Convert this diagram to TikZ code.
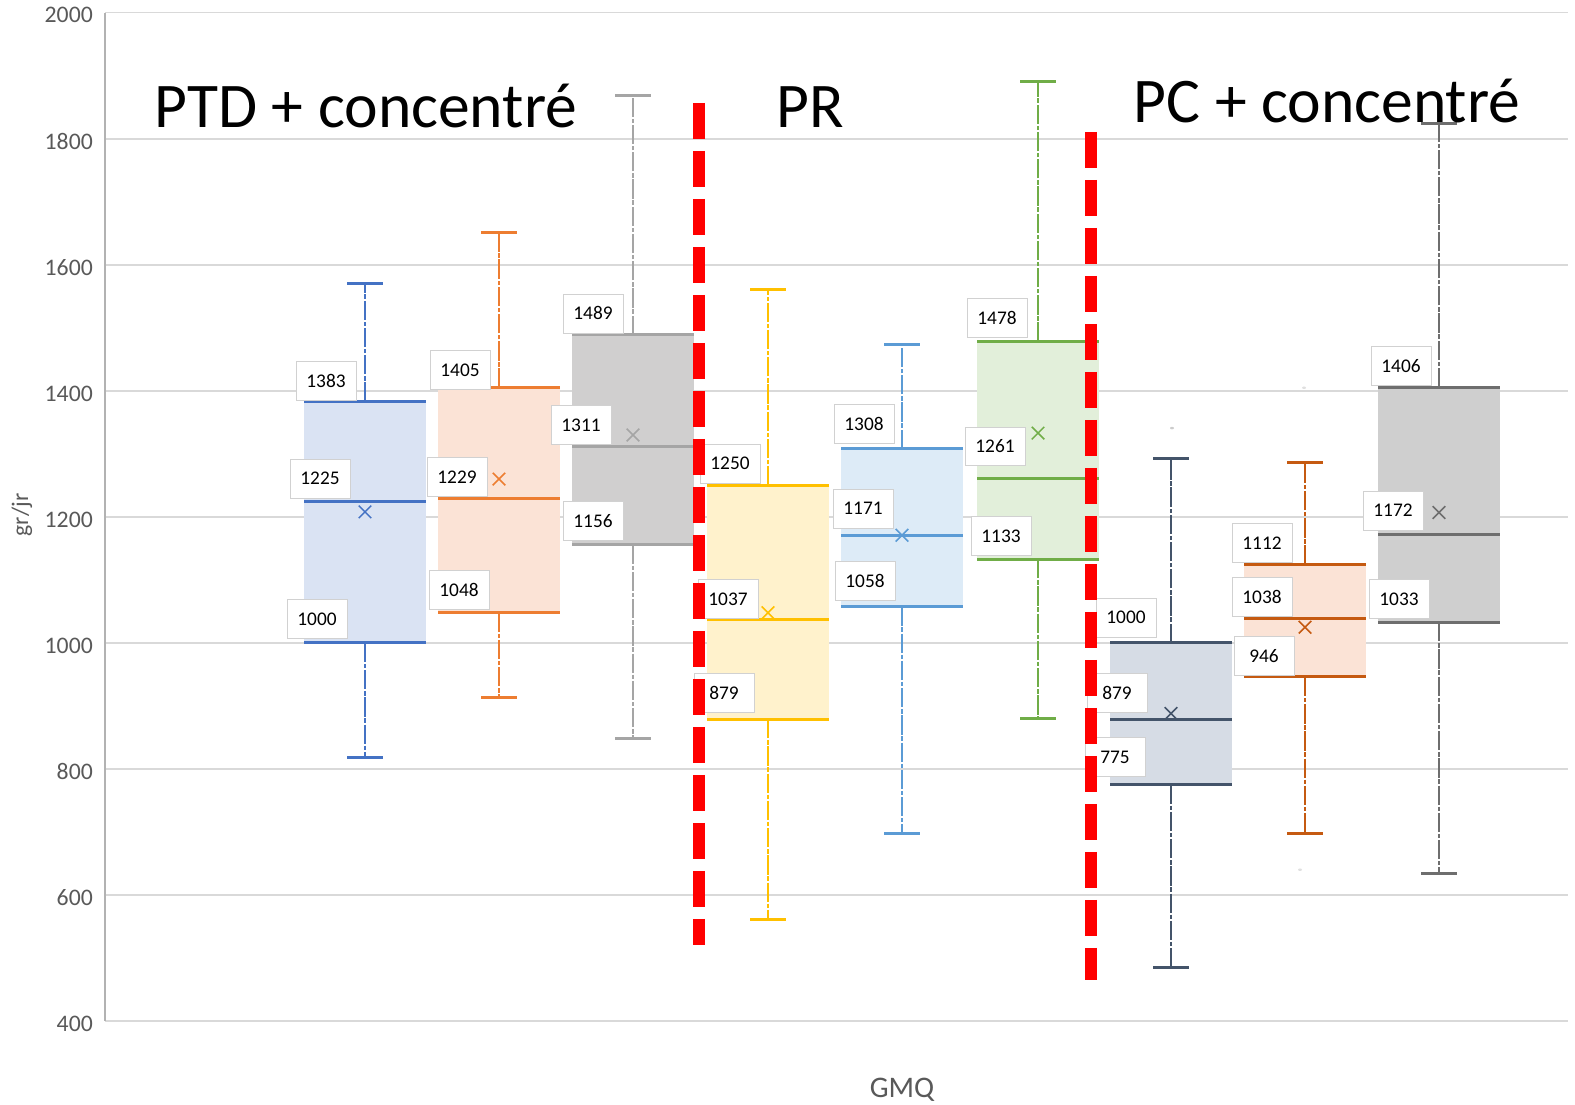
\documentclass[tikz,border=0pt]{standalone}
\usepackage{fontspec}
\setmainfont{Carlito}
\usepackage{tikz}
\usetikzlibrary{shapes}
\definecolor{cBlueA}{HTML}{4472C4}\definecolor{fBlueA}{HTML}{DAE3F3}
\definecolor{cOrA}{HTML}{ED7D31}\definecolor{fOrA}{HTML}{FBE3D6}
\definecolor{cGrA}{HTML}{A5A5A5}\definecolor{fGrA}{HTML}{D0CFCF}
\definecolor{cYel}{HTML}{FFC000}\definecolor{fYel}{HTML}{FFF2CC}
\definecolor{cBlueB}{HTML}{5B9BD5}\definecolor{fBlueB}{HTML}{DDEBF7}
\definecolor{cGreen}{HTML}{70AD47}\definecolor{fGreen}{HTML}{E2EFDA}
\definecolor{cNavy}{HTML}{44546A}\definecolor{fNavy}{HTML}{D6DCE5}
\definecolor{cBrown}{HTML}{C55A11}\definecolor{fBrown}{HTML}{FBE3D6}
\definecolor{cGrB}{HTML}{6E6E6E}\definecolor{fGrB}{HTML}{CFCFCF}
\definecolor{axisgray}{HTML}{595959}
\tikzset{
    valbox/.style={rectangle, draw=black!18, fill=white, font=\fontsize{11}{13}\selectfont, minimum width=1.2cm, minimum height=0.78cm, inner sep=1pt},
    meanmark/.style={cross out, minimum size=0.22cm, inner sep=0pt, line width=0.9pt},
    whisker/.style={line width=1.2pt, dash pattern=on 11pt off 1pt on 2.5pt off 1pt},
    boxline/.style={line width=1.7pt},
    gridline/.style={draw=black!15, line width=0.7pt},
    redcut/.style={draw=red, line width=0.24cm, dash pattern=on 0.72cm off 0.24cm},
    ticklab/.style={text=axisgray, font=\fontsize{13.5}{16}\selectfont},
    bigtitle/.style={font=\fontsize{36.2}{42}\selectfont},
}

\begin{document}
\begin{tikzpicture}[x=0.02cm, y=0.02cm]
            \useasboundingbox (0,0) rectangle (1575,1105);
            \begin{scope}[yshift=-3.36cm, y=0.0126cm, local bounding box=plot]
                % grid and axis
                \foreach \v in {400,600,...,2000} {
                    \draw[gridline] (105,\v) -- (1568,\v);
                    \node[ticklab, anchor=east, yshift=-0.05cm] (tick\v) at (99,\v) {\v};
                }
                \draw[draw=black!30, line width=0.7pt] (105,2000) -- (105,400);
                % boxes: centre/min/q1/median/q3/max/mean/line/fill
                \foreach \cx/\lo/\qa/\md/\qc/\hi/\mn/\lc/\fc [count=\n] in {
                    365/818/1000/1225/1383/1570/1208/cBlueA/fBlueA,
                    499/913/1048/1229/1405/1652/1260/cOrA/fOrA,
                    633/848/1156/1311/1489/1869/1330/cGrA/fGrA,
                    768/561/879/1037/1250/1561/1048/cYel/fYel,
                    902/698/1058/1171/1308/1473/1171/cBlueB/fBlueB,
                    1038/880/1133/1261/1478/1891/1333/cGreen/fGreen,
                    1171/485/775/879/1000/1293/888/cNavy/fNavy,
                    1305/698/946/1038/1124/1287/1025/cBrown/fBrown,
                    1439/634/1033/1172/1406/1824/1207/cGrB/fGrB} {
                    \fill[\fc] (\cx-61,\qa) rectangle (\cx+61,\qc);
                    \draw[whisker, \lc] (\cx,\qc) -- (\cx,\hi);
                    \draw[whisker, \lc] (\cx,\qa) -- (\cx,\lo);
                    \draw[boxline, \lc] (\cx-18,\hi) -- (\cx+18,\hi);
                    \draw[boxline, \lc] (\cx-18,\lo) -- (\cx+18,\lo);
                    \foreach \q in {\qa,\md,\qc} {
                        \draw[boxline, \lc] (\cx-61,\q) -- (\cx+61,\q);
                    }
                    \node[meanmark, draw=\lc] (mean\n) at (\cx,\mn) {};
                }
                % faint outliers
                \fill[black!20] (1172,1341) circle (2);
                \fill[black!12] (1304,1405) circle (2);
                \fill[black!12] (1300,640) circle (2);
                % value labels
                \foreach \lx/\lv/\txt [count=\n] in {
                    326/1416/1383, 320/1261/1225, 317/1038/1000,
                    460/1433/1405, 457/1263/1229, 459/1084/1048,
                    593/1523/1489, 581/1346/1311, 593/1193/1156,
                    730/1285/1250, 728/1070/1037, 724/920/879,
                    864/1347/1308, 863/1213/1171, 865/1099/1058,
                    997/1516/1478, 995/1312/1261, 1001/1170/1133,
                    1126/1040/1000, 1117/920/879, 1115/819/775,
                    1262/1159/1112, 1262/1073/1038, 1264/979/946,
                    1401/1440/1406, 1393/1210/1172, 1399/1070/1033} {
                    \node[valbox] (val\n) at (\lx,\lv) {\txt};
                }
                % red separators
                \draw[redcut] (699,1857) -- (699,521);
                \draw[redcut] (1091,1811) -- (1091,465);
            \end{scope}

            \node[bigtitle, anchor=base] (ptd) at (366,977) {PTD + concentré};
            \node[bigtitle, anchor=base] (pr) at (810,977) {PR};
            \node[bigtitle, anchor=base] (pc) at (1327,982) {PC + concentré};
            \node[ticklab, rotate=90] (ylab) at (22,590) {gr/jr};
            \node[text=axisgray, font=\fontsize{17}{20}\selectfont] (xlab) at (902,15) {GMQ};
        \end{tikzpicture}
\end{document}
